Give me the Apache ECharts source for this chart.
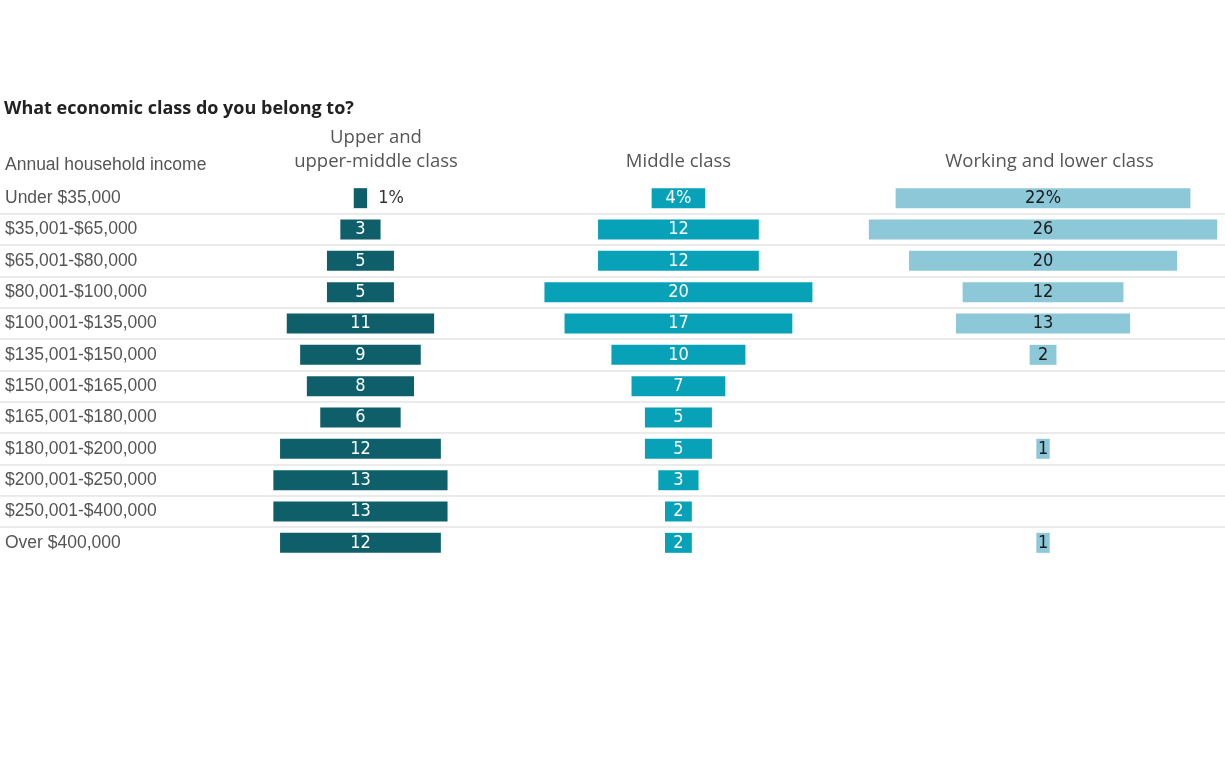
<!DOCTYPE html>
<html>
<head>
<meta charset="utf-8">
<script src="https://cdn.jsdelivr.net/npm/echarts@6/dist/echarts.min.js"></script>
<style>
  html, body { margin: 0; padding: 0; background: #fff; }
  #main { width: 1225px; height: 760px; }
</style>
</head>
<body>
<div id="main"></div>
<script>
// survey answers, % of each income bracket
const incomeBrackets = [
  'Under $35,000', '$35,001-$65,000', '$65,001-$80,000', '$80,001-$100,000',
  '$100,001-$135,000', '$135,001-$150,000', '$150,001-$165,000', '$165,001-$180,000',
  '$180,001-$200,000', '$200,001-$250,000', '$250,001-$400,000', 'Over $400,000'
];
const upperClass = [1, 3, 5, 5, 11, 9, 8, 6, 12, 13, 13, 12];
const middleClass = [4, 12, 12, 20, 17, 10, 7, 5, 5, 3, 2, 2];
const workingClass = [22, 26, 20, 12, 13, 2, null, null, 1, null, null, 1];

// x axis runs over the full width, bars are centred on each column
const xMax = 91.42;
const columns = [
  { values: upperClass, center: 26.9, color: '#0e5f69', text: '#fff' },
  { values: middleClass, center: 50.63, color: '#08a2b8', text: '#fff' },
  { values: workingClass, center: 77.84, color: '#8dc8d8', text: '#1a1a1a' }
];

const numFont = '"Liberation Sans Narrow", "DejaVu Sans Condensed", sans-serif';
const headFont = '18.5px "Open Sans", sans-serif';

let series = [];
columns.forEach((col, i) => {
  series.push({
    type: 'bar',
    stack: 'c' + i,
    barWidth: 20,
    barGap: '-100%',
    silent: true,
    itemStyle: { color: 'transparent' },
    data: col.values.map((v) => (v == null ? null : col.center - v / 2))
  });
  series.push({
    type: 'bar',
    stack: 'c' + i,
    barWidth: 20,
    barGap: '-100%',
    itemStyle: { color: col.color },
    label: {
      show: true,
      position: 'inside',
      color: col.text,
      fontFamily: numFont,
      fontSize: 18,
      formatter: (p) => (p.dataIndex === 0 ? p.value + '%' : p.value)
    },
    data: col.values.map((v, idx) => {
      if (v == null) return null;
      // the 1% bar is too narrow for its label
      if (i === 0 && idx === 0) {
        return { value: v, label: { position: 'right', distance: 11, color: '#333' } };
      }
      return v;
    })
  });
});

let myChart = echarts.init(document.getElementById('main'));

let options = {
  animation: false,
  grid: { left: 0, right: 0, top: 182.5, height: 376 },
  xAxis: {
    type: 'value',
    min: 0,
    max: xMax,
    show: false
  },
  yAxis: {
    type: 'category',
    inverse: true,
    data: incomeBrackets,
    axisLine: { show: false },
    axisTick: { show: false },
    axisLabel: {
      inside: true,
      margin: 5,
      color: '#555',
      fontSize: 17.5,
      fontFamily: '"Liberation Sans", Arial, sans-serif'
    },
    splitLine: {
      show: true,
      showMinLine: false,
      showMaxLine: false,
      lineStyle: { color: '#e4e4e4', width: 1.5 }
    }
  },
  graphic: [
    {
      type: 'text', left: 4, top: 100,
      style: { text: 'What economic class do you belong to?', fill: '#222', font: 'bold 18px "Open Sans", sans-serif' }
    },
    {
      type: 'text', left: 5, top: 156,
      style: { text: 'Annual household income', fill: '#555', font: '17.5px "Liberation Sans", Arial, sans-serif' }
    },
    {
      type: 'text', x: 376, y: 138,
      style: { text: 'Upper and', fill: '#555', font: headFont, textAlign: 'center', textVerticalAlign: 'middle' }
    },
    {
      type: 'text', x: 376, y: 161.5,
      style: { text: 'upper-middle class', fill: '#555', font: headFont, textAlign: 'center', textVerticalAlign: 'middle' }
    },
    {
      type: 'text', x: 678.5, y: 161.5,
      style: { text: 'Middle class', fill: '#555', font: headFont, textAlign: 'center', textVerticalAlign: 'middle' }
    },
    {
      type: 'text', x: 1049.5, y: 161.5,
      style: { text: 'Working and lower class', fill: '#555', font: headFont, textAlign: 'center', textVerticalAlign: 'middle' }
    }
  ],
  series: series
};
myChart.setOption(options);
</script>
</body>
</html>
